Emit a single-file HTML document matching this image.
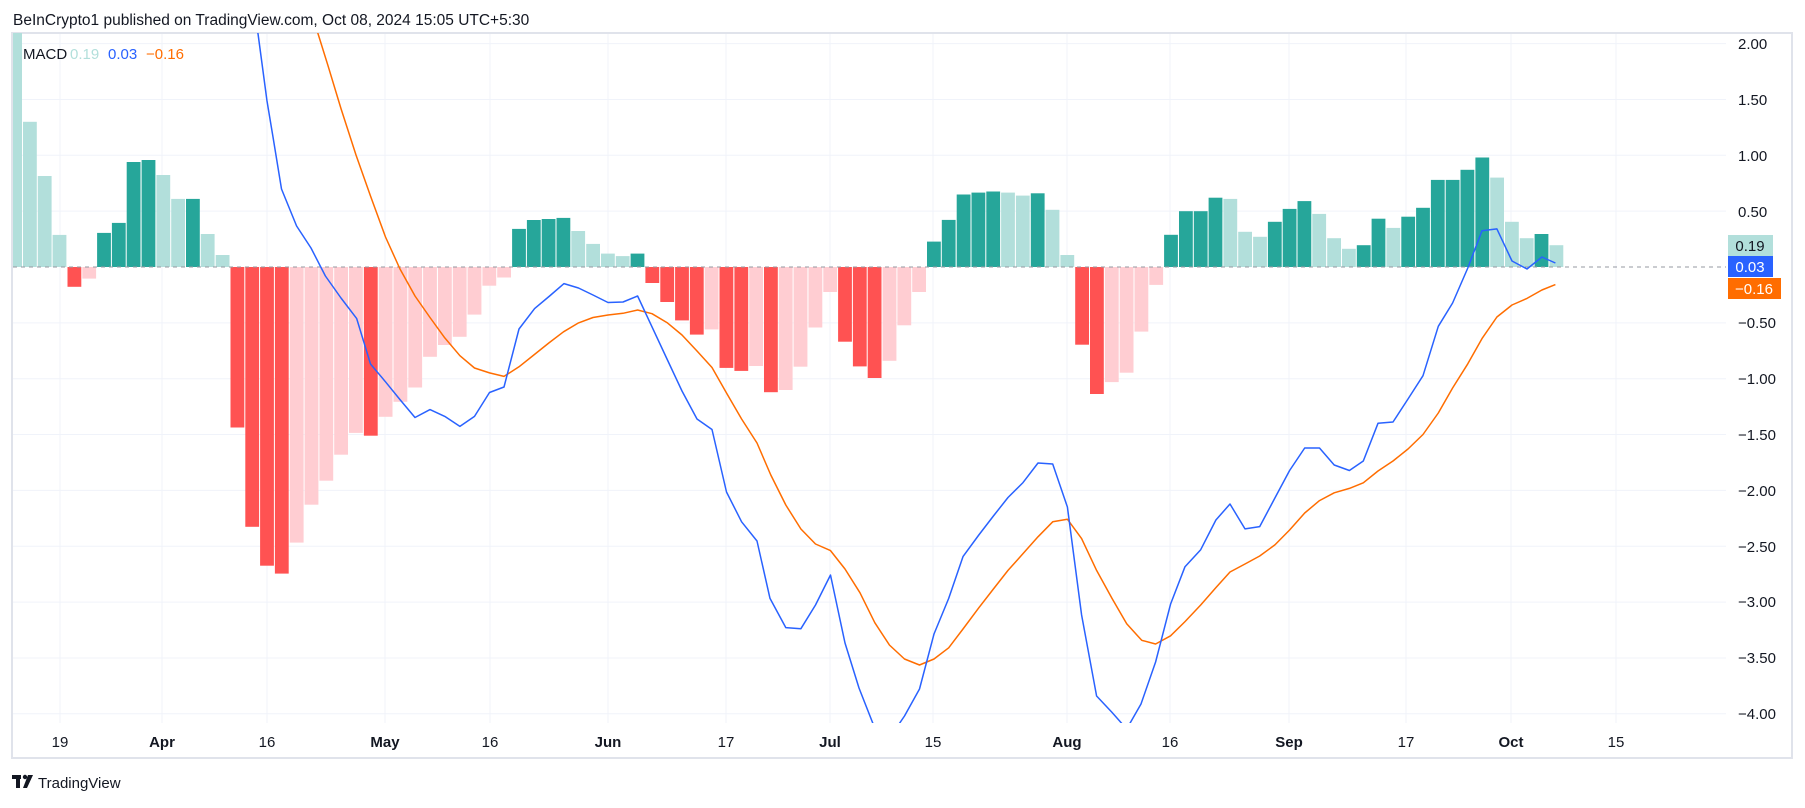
<!DOCTYPE html>
<html><head><meta charset="utf-8"><style>
html,body{margin:0;padding:0;background:#fff;}
body{width:1805px;height:803px;overflow:hidden;font-family:"Liberation Sans",sans-serif;}
svg text{font-family:"Liberation Sans",sans-serif;}
</style></head><body>
<svg id="s" width="1805" height="803" viewBox="0 0 1805 803" xmlns="http://www.w3.org/2000/svg">
<defs><clipPath id="pc"><rect x="13" y="33" width="1713" height="690"/></clipPath></defs>
<rect x="12" y="33" width="1780" height="725" fill="#fff" stroke="#e0e3eb" stroke-width="2"/>
<g id="grid" stroke="#f0f3fa" stroke-width="1"></g>
<g id="bars" clip-path="url(#pc)"></g>
<line x1="13" y1="267" x2="1726" y2="267" stroke="#9598a1" stroke-width="1" stroke-dasharray="4,4"/>
<g clip-path="url(#pc)" fill="none" stroke-width="1.5" stroke-linejoin="round">
<polyline id="orange" stroke="#ff6d00" points=""/>
<polyline id="blue" stroke="#2962ff" points=""/>
</g>
<text x="13" y="25" font-size="15.5" fill="#131722">BeInCrypto1 published on TradingView.com, Oct 08, 2024 15:05 UTC+5:30</text>
<text x="23" y="59" font-size="15" fill="#131722">MACD</text>
<text x="70" y="59" font-size="15" fill="#b2dfdb">0.19</text>
<text x="108" y="59" font-size="15" fill="#2962ff">0.03</text>
<text x="146" y="59" font-size="15" fill="#ff6d00">−0.16</text>
<g font-size="15" fill="#131722">
<text x="1738" y="49">2.00</text>
<text x="1738" y="105">1.50</text>
<text x="1738" y="161">1.00</text>
<text x="1738" y="217">0.50</text>
<text x="1738" y="328">−0.50</text>
<text x="1738" y="384">−1.00</text>
<text x="1738" y="440">−1.50</text>
<text x="1738" y="496">−2.00</text>
<text x="1738" y="552">−2.50</text>
<text x="1738" y="607">−3.00</text>
<text x="1738" y="663">−3.50</text>
<text x="1738" y="719">−4.00</text>
</g>
<rect x="1728" y="235" width="45" height="21" fill="#b2dfdb"/>
<text x="1750" y="251" font-size="15" fill="#131722" text-anchor="middle">0.19</text>
<rect x="1728" y="256" width="45" height="21" fill="#2962ff"/>
<text x="1750" y="272" font-size="15" fill="#fff" text-anchor="middle">0.03</text>
<rect x="1728" y="278" width="53" height="21" fill="#ff6d00"/>
<text x="1754" y="294" font-size="15" fill="#fff" text-anchor="middle">−0.16</text>
<g font-size="15" fill="#131722" text-anchor="middle">
<text x="60" y="747">19</text>
<text x="162" y="747" font-weight="bold">Apr</text>
<text x="267" y="747">16</text>
<text x="385" y="747" font-weight="bold">May</text>
<text x="490" y="747">16</text>
<text x="608" y="747" font-weight="bold">Jun</text>
<text x="726" y="747">17</text>
<text x="830" y="747" font-weight="bold">Jul</text>
<text x="933" y="747">15</text>
<text x="1067" y="747" font-weight="bold">Aug</text>
<text x="1170" y="747">16</text>
<text x="1289" y="747" font-weight="bold">Sep</text>
<text x="1406" y="747">17</text>
<text x="1511" y="747" font-weight="bold">Oct</text>
<text x="1616" y="747">15</text>
</g>
<g fill="#131722">
<rect x="12" y="775" width="9" height="4"/>
<rect x="16" y="775" width="4" height="13"/>
<circle cx="25" cy="777" r="2.2"/>
<polygon points="28,775 33,775 27,788 23,788"/>
</g>
<text x="38" y="788" font-size="15" fill="#131722">TradingView</text>
</svg>
<script>
var NS="http://www.w3.org/2000/svg";
function el(n,a,p){var e=document.createElementNS(NS,n);for(var k in a)e.setAttribute(k,a[k]);p.appendChild(e);return e;}
var g=document.getElementById('grid');
for(var n=-4;n<=8;n++){if(n==4)continue;var y=267-55.85*(4-n)*1;}
for(var v=2;v>=-4;v-=0.5){if(Math.abs(v)<0.01)continue;var y=267-v*111.7;el('line',{x1:13,y1:y,x2:1726,y2:y},g);}
[60,162,267,385,490,608,726,830,933,1067,1170,1289,1406,1511,1616].forEach(function(x){el('line',{x1:x,y1:34,x2:x,y2:723},g);});
var vals=[2.3,1.30,0.815,0.287,-0.177,-0.104,0.305,0.395,0.94,0.958,0.824,0.61,0.61,0.295,0.107,-1.437,-2.326,-2.674,-2.745,-2.467,-2.128,-1.913,-1.68,-1.485,-1.51,-1.341,-1.207,-1.079,-0.804,-0.698,-0.625,-0.426,-0.167,-0.094,0.341,0.421,0.43,0.44,0.322,0.207,0.12,0.098,0.12,-0.143,-0.313,-0.478,-0.605,-0.559,-0.903,-0.93,-0.886,-1.121,-1.101,-0.893,-0.542,-0.224,-0.669,-0.89,-0.994,-0.84,-0.522,-0.224,0.227,0.422,0.649,0.666,0.676,0.666,0.639,0.66,0.512,0.107,-0.696,-1.137,-1.03,-0.946,-0.578,-0.16,0.288,0.5,0.5,0.62,0.61,0.315,0.27,0.405,0.52,0.59,0.475,0.258,0.163,0.195,0.432,0.35,0.45,0.53,0.78,0.78,0.87,0.98,0.80,0.405,0.258,0.295,0.195];
var cols="LLLLRPTTTTLLTLLRRRRPPPPPRPPPPPPPPPTTTTLLLLTRRRRPRRPRPPPPRRRPPPTTTTTLLTLLRRPPPPTTTTLLLTTTLLLTTLTTTTTTLLLTL";
var cm={L:'#b2dfdb',T:'#26a69a',R:'#ff5252',P:'#ffcdd2'};
var b=document.getElementById('bars');
for(var k=0;k<vals.length;k++){var x=8.18+14.82*k,v=vals[k],y0=267,y1=267-v*111.7;
el('rect',{x:x.toFixed(1),y:Math.min(y0,y1).toFixed(1),width:13.8,height:Math.abs(y1-y0).toFixed(1),fill:cm[cols[k]]},b);}
document.getElementById('blue').setAttribute('points',"250,5 258,33.6 267,101 273,137 281.5,189 296.6,226 311,248 325.4,276 341,298 356.7,318.6 370.5,364 385.5,381.8 400,399.6 415,417.5 430,409.6 444.8,416.4 459.9,426.4 474.5,416.4 489.5,392.5 504,387 519,329 534.6,308.6 549.6,296 564,283.6 578.5,288 593,295 608,302.5 623,302 637.6,296 651.4,325.6 667,359 682,391 697,419 712,429.5 726.5,492 741.6,521.8 757,541 770,598.4 785.8,627.6 800.9,628.7 815.5,605 830.5,575 845,643 859,688 874.7,728 889.5,738 904.5,716 919.5,689 934,634 948.7,598.4 963,556.6 978.8,535 993.4,516 1008,497.5 1023,482.6 1038,463 1052.7,464 1067.4,507 1081.6,615 1096.6,696 1112,712.4 1126.7,729 1141,704 1155.6,662 1170.6,604 1185,566.7 1200.7,549.7 1215.9,520 1230,504 1245,528.9 1259.7,526.6 1274.9,498 1289.6,470.5 1304.7,448 1319.5,448 1334.2,465 1349.4,470.5 1363.3,461 1378,423.3 1393,422 1408,399 1423,375.7 1438.3,326.3 1452.6,303 1467.8,268 1482,230.7 1496.9,228.9 1512,261 1527,269 1541.9,257 1555.4,263");
document.getElementById('orange').setAttribute('points',"310,5 318,33.6 328,65.7 341,108.6 356,155 370.5,196 385.5,237 400,269 415,296 430,317.5 444.8,337.9 459.9,355.7 474.5,368 489.5,372.9 504,376.4 519,366.8 533.8,355 548.8,343 563.5,331.8 578.5,322.9 593,317.5 608,315 623,313.3 637.6,310 652,313.7 667,322.6 682,335 697,351 712,367.5 726.5,393 741.6,419 757,443 770.8,475 785.8,505 800.9,529 815.5,544 830.5,550.6 845,569 860,592.8 874.8,622.7 889.4,645 904.5,659 919.5,665 934,659 948.7,647.8 963,629 978.8,607.8 993.4,589 1008,570.4 1023,553.6 1038,536.8 1052.7,521.8 1067.4,519.2 1081.6,538.6 1096.6,570.4 1112,598.4 1126.7,623.8 1141.7,640.3 1155.6,644 1170.6,635.8 1185,621.6 1200.7,605 1215.9,587.6 1230,572 1245,564 1259.7,556 1274.9,544.9 1289.6,530 1304.7,513 1319.5,500.6 1334.2,492.8 1349.4,488.4 1363.3,482.8 1378,471 1393,461 1408,449 1423,434.5 1438.3,413 1452.6,388 1467.8,363.8 1482,338.6 1496.9,317 1512,305 1527,298.4 1541.9,290 1555.4,284.6");
</script>
</body></html>
